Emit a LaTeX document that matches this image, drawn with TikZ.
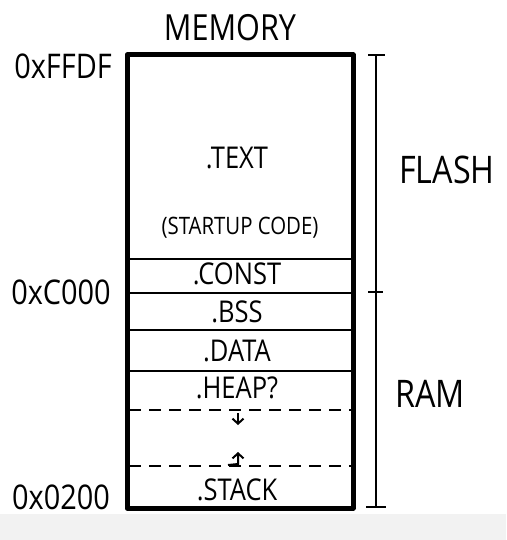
\documentclass[tikz,border=0pt]{standalone}
\usepackage{fontspec}
\setmainfont{Open Sans}[FakeStretch=0.85]
\usetikzlibrary{arrows.meta}
\begin{document}
\begin{tikzpicture}[x=1pt,y=-1pt,
  thickline/.style={line width=5pt,line join=round,line cap=round},
  thinline/.style={line width=2.5pt},
  dashline/.style={line width=2.2pt,dash pattern=on 12pt off 8pt},
  lbl/.style={inner sep=0pt,font=\fontsize{30}{30}\selectfont},
  addr/.style={inner sep=0pt,font=\fontsize{34}{34}\selectfont},
  scalebar/.style={line width=2.2pt},
  arr/.style={line width=2pt,-{Straight Barb[length=5pt,width=11pt]}}]
\useasboundingbox (0,0) rectangle (506,540);
\fill[white] (0,0) rectangle (506,540);
\fill[black!5] (0,514) rectangle (506,540);
% box
\coordinate (tl) at (127,55);
\coordinate (br) at (353,508);
\draw[thickline] (tl) rectangle (br);
% separators
\draw[thinline] (127,259) -- (353,259);
\draw[thinline] (127,293) -- (353,293);
\draw[thinline] (127,330) -- (353,330);
\draw[thinline] (127,371) -- (353,371);
\draw[dashline] (129,410) -- (351,410);
\draw[dashline] (129,466) -- (351,466);
% arrows
\coordinate (d1) at (238,413);
\coordinate (d2) at (238,425);
\draw[arr] (d1) -- (d2);
\coordinate (u1) at (228,465);
\coordinate (u2) at (238,464);
\coordinate (u3) at (238,452);
\draw[arr] (u1) -- (u2) -- (u3);
% labels
\node[lbl,font=\fontsize{36}{36}\selectfont] (mem) at (230,28) {MEMORY};
\node[lbl] (text) at (237,158) {.TEXT};
\node[lbl,font=\fontsize{24}{24}\selectfont] (start) at (240,228) {(STARTUP CODE)};
\node[lbl] (const) at (237,274) {.CONST};
\node[lbl] (bss) at (237,312) {.BSS};
\node[lbl] (data) at (237,351) {.DATA};
\node[lbl] (heap) at (237,388) {.HEAP?};
\node[lbl] (stack) at (237,490) {.STACK};
\node[addr] (a1) at (63,66) {0xFFDF};
\node[addr] (a2) at (61,292) {0xC000};
\node[addr] (a3) at (61,497) {0x0200};
\node[lbl,font=\fontsize{38}{38}\selectfont] (flash) at (447,170) {FLASH};
\node[lbl,font=\fontsize{38}{38}\selectfont] (ram) at (430,394) {RAM};
% scale bar
\coordinate (s1) at (376,55);
\coordinate (s2) at (376,292);
\coordinate (s3) at (376,507);
\draw[scalebar] (s1) -- (s3);
\draw[scalebar] (368,55) -- (385,55);
\draw[scalebar] (368,292) -- (383,292);
\draw[scalebar] (366,507) -- (386,507);
\end{tikzpicture}
\end{document}
